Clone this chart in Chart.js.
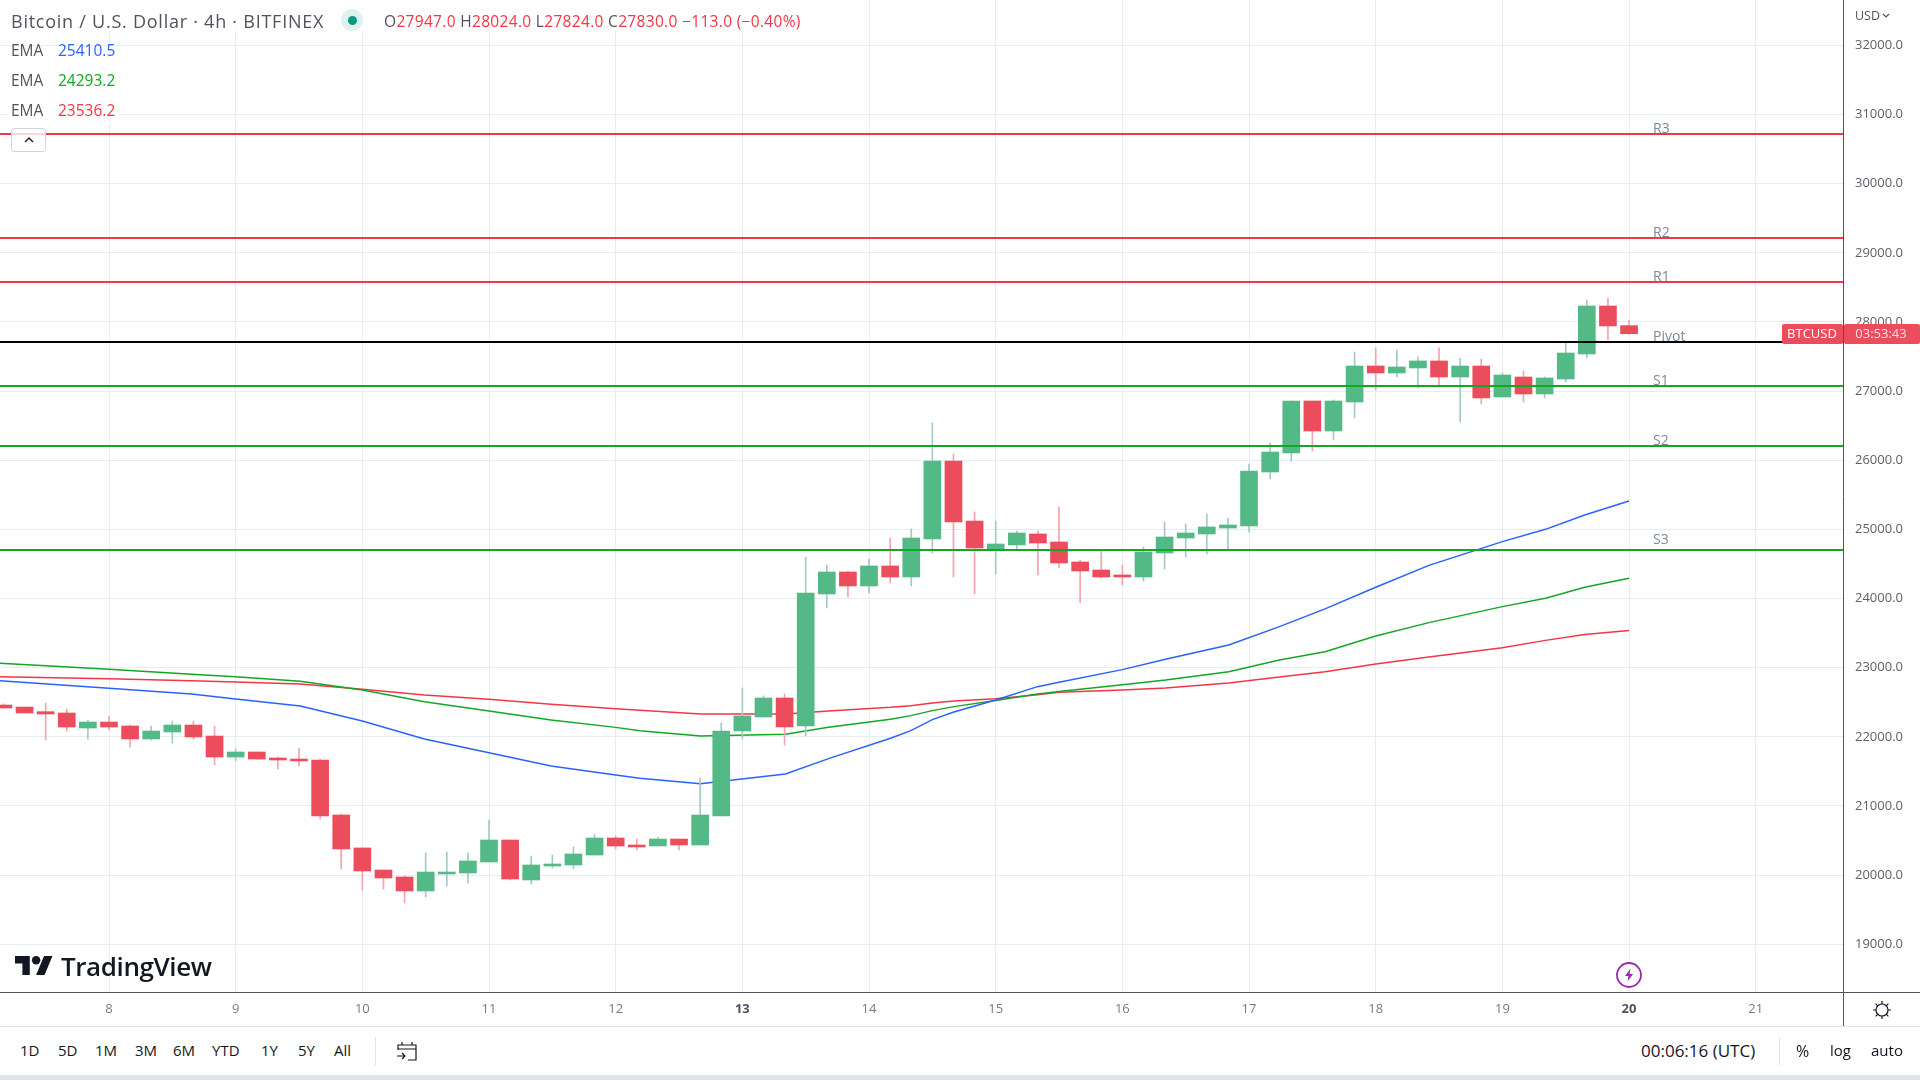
<!DOCTYPE html>
<html lang="en">
<head>
<meta charset="UTF-8">
<title>BTCUSD 4h</title>
<script src="https://cdn.jsdelivr.net/npm/chart.js"></script>
<style>
    html, body { margin: 0; padding: 0; background: #fff; width: 1920px; height: 1080px; overflow: hidden; }
    body { font-family: "Open Sans", sans-serif; color: #131722; position: relative; }
    #priceChart { position: absolute; left: 0; top: 0; }
    .t { position: absolute; white-space: nowrap; line-height: 1; transform: translateY(-50%); }
    .line { position: absolute; }
    .tool { font-size: 15px; color: #131722; }
    .head { font-size: 18px; letter-spacing: .75px; color: #50535e; }
    .ohlc { font-size: 15.5px; letter-spacing: .32px; color: #f23645; }
    .ohlc i { font-style: normal; color: #50535e; }
    .ema { font-size: 15.5px; color: #50535e; }
</style>
</head>
<body>
<canvas id="priceChart" width="1920" height="1026"></canvas>

<div class="line" style="left:8px;top:47px;width:110px;height:75px;background:rgba(255,255,255,.85);"></div>
<div class="line" style="left:0;top:0;width:812px;height:31px;background:rgba(255,255,255,.85);"></div>

<span class="t head" style="left:11px;top:21px;">Bitcoin / U.S. Dollar · 4h · BITFINEX</span>
<div class="line" style="left:341px;top:9px;width:22px;height:22px;border-radius:50%;background:#e0f2ef;"></div>
<div class="line" style="left:348px;top:16px;width:9px;height:9px;border-radius:50%;background:#089981;"></div>
<span class="t ohlc" style="left:384px;top:22px;"><i>O</i>27947.0 <i>H</i>28024.0 <i>L</i>27824.0 <i>C</i>27830.0 −113.0 (−0.40%)</span>

<span class="t ema" style="left:11px;top:51px;">EMA</span>
<span class="t ema" style="left:58px;top:51px;color:#2962ff;">25410.5</span>
<span class="t ema" style="left:11px;top:81px;">EMA</span>
<span class="t ema" style="left:58px;top:81px;color:#13a725;">24293.2</span>
<span class="t ema" style="left:11px;top:111px;">EMA</span>
<span class="t ema" style="left:58px;top:111px;color:#f23645;">23536.2</span>

<div class="line" style="left:11px;top:128px;width:35px;height:24px;box-sizing:border-box;border:1px solid #d1d4dc;border-radius:3px;background:rgba(255,255,255,.8);"></div>
<svg class="line" style="left:23px;top:136px;" width="12" height="8" viewBox="0 0 12 8"><path d="M2 6l4-4 4 4" fill="none" stroke="#131722" stroke-width="1.4"/></svg>

<svg class="line" style="left:15px;top:956px;" width="38" height="19" viewBox="0 4 36 18"><path d="M14 22H7V11H0V4h14v18zM28 22h-8l7.5-18h8L28 22z" fill="#131722"/><circle cx="20" cy="8" r="4" fill="#131722"/></svg>
<span class="t" style="left:61px;top:966px;font-size:26px;font-weight:600;letter-spacing:-.4px;color:#131722;">TradingView</span>

<svg class="line" style="left:1615px;top:961px;" width="28" height="28" viewBox="0 0 28 28"><circle cx="14" cy="14" r="12" fill="#fff" stroke="#9c27b0" stroke-width="1.8"/><path d="M15.5 7.5L10 15h3.5l-1 5.5 5.5-7.5h-3.5z" fill="#9c27b0"/></svg>

<span class="t" style="left:1855px;top:16px;font-size:12.5px;color:#50535e;">USD</span>
<svg class="line" style="left:1882px;top:13px;" width="8" height="6" viewBox="0 0 8 6"><path d="M1 1l3 3 3-3" fill="none" stroke="#50535e" stroke-width="1.2"/></svg>

<div class="line" style="left:0;top:992px;width:1920px;height:1px;background:#50535e;"></div>
<div class="line" style="left:1843px;top:992px;width:1px;height:34px;background:#50535e;"></div>
<div class="line" style="left:0;top:1026px;width:1920px;height:1px;background:#e0e3eb;"></div>
<div class="line" style="left:0;top:1075px;width:1920px;height:5px;background:#e0e3eb;"></div>

<svg class="line" style="left:1871px;top:999px;" width="22" height="22" viewBox="0 0 22 22"><g fill="none" stroke="#131722" stroke-width="1.2"><circle cx="11" cy="11" r="6"/><path d="M11 2v3M11 17v3M2 11h3M17 11h3M4.6 4.6l2.2 2.2M15.2 15.2l2.2 2.2M4.6 17.4l2.2-2.2M15.2 6.8l2.2-2.2"/></g></svg>

<span class="t tool" style="left:20px;top:1050px;">1D</span>
<span class="t tool" style="left:58px;top:1050px;">5D</span>
<span class="t tool" style="left:95px;top:1050px;">1M</span>
<span class="t tool" style="left:135px;top:1050px;">3M</span>
<span class="t tool" style="left:173px;top:1050px;">6M</span>
<span class="t tool" style="left:212px;top:1050px;">YTD</span>
<span class="t tool" style="left:261px;top:1050px;">1Y</span>
<span class="t tool" style="left:298px;top:1050px;">5Y</span>
<span class="t tool" style="left:334px;top:1050px;">All</span>
<div class="line" style="left:375px;top:1037px;width:1px;height:28px;background:#e0e3eb;"></div>
<svg class="line" style="left:396px;top:1041px;" width="22" height="20" viewBox="0 0 22 20"><g fill="none" stroke="#131722" stroke-width="1.2"><path d="M2 9V4h18v15h-8M2 8h18M6 1v3M16 1v3M1 15h8M6 12l3 3-3 3"/></g></svg>

<span class="t tool" style="left:1641px;top:1050px;font-size:17px;">00:06:16 (UTC)</span>
<div class="line" style="left:1779px;top:1037px;width:1px;height:28px;background:#e0e3eb;"></div>
<span class="t tool" style="left:1796px;top:1051px;font-size:16px;">%</span>
<span class="t tool" style="left:1830px;top:1050px;">log</span>
<span class="t tool" style="left:1871px;top:1050px;">auto</span>

<script>
// 4h candles, oldest first, the last one sits on the day 20 tick
const firstCandleDay = 8 - 5 / 6;
const candlesPerDay = 6;

const opens = [22460,22431,22364,22345,22128,22214,22157,21969,22070,22171,22012,21708,21781,21694,21679,21665,20870,20393,20074,19973,19771,20017,20031,20190,20508,19930,20132,20147,20291,20537,20436,20422,20522,20436,20856,22085,22287,22562,22157,24066,24384,24182,24471,24312,24861,25989,25121,24702,24775,24934,24818,24529,24413,24341,24312,24659,24876,24934,25020,25049,25830,26105,26857,26423,26843,27363,27262,27335,27436,27204,27363,26915,27204,26959,27175,27537,28231,27947];
const highs = [22480,22431,22489,22402,22243,22301,22171,22157,22229,22229,22157,21824,21781,21708,21839,21679,20884,20393,20074,19988,20320,20335,20320,20797,20508,20277,20291,20407,20595,20566,20523,20552,20522,21405,22201,22707,22591,22620,24601,24485,24399,24572,24876,25006,26539,26090,25252,25121,24977,24977,25324,24558,24688,24485,24746,25107,25078,25223,25165,25946,26249,26857,26857,26872,27566,27624,27595,27494,27624,27479,27465,27262,27291,27204,27696,28318,28347,28024];
const lows = [22417,22345,21954,22084,21969,22104,21853,21954,21911,21969,21593,21651,21679,21535,21578,20812,20089,19785,19800,19597,19684,19843,19886,20190,19930,19872,20103,20089,20291,20378,20364,20422,20364,20436,20856,21969,22287,21882,22013,23864,24023,24080,24225,24182,24659,24312,24066,24355,24717,24341,24442,23936,24297,24196,24254,24427,24601,24644,24717,24962,25729,25990,26134,26293,26612,27016,27204,27045,27089,26554,26814,26915,26843,26901,27132,27479,27739,27824];
const closes = [22417,22345,22330,22142,22214,22142,21969,22084,22171,21998,21708,21781,21679,21665,21651,20855,20378,20060,19959,19771,20045,20045,20205,20508,19944,20147,20161,20306,20537,20421,20407,20522,20436,20870,22085,22302,22562,22143,24080,24384,24182,24471,24312,24876,25989,25107,24731,24789,24948,24803,24514,24399,24312,24312,24673,24890,24948,25035,25064,25845,26119,26857,26423,26857,27363,27262,27349,27436,27204,27363,26901,27233,26959,27190,27551,28231,27942,27830];

const emaDays = [7.14,8,8.65,9,9.51,10,10.49,11,11.49,12,12.19,12.67,13.34,13.68,14.17,14.33,14.5,14.67,15,15.33,15.5,16,16.34,16.84,17.24,17.6,18,18.42,19,19.34,19.65,20];
const emaBlue = [22812,22701,22619,22547,22446,22229,21969,21771,21578,21448,21400,21323,21463,21685,21979,22090,22249,22360,22533,22726,22789,22972,23121,23328,23594,23850,24163,24480,24823,25001,25209,25410.5];
const emaGreen = [23063,22976,22904,22870,22803,22677,22508,22374,22243,22137,22089,22013,22037,22138,22254,22307,22379,22437,22524,22620,22654,22755,22822,22943,23112,23230,23459,23652,23883,24004,24163,24293.2];
const emaRed = [22870,22841,22812,22793,22764,22687,22605,22542,22470,22407,22383,22331,22331,22374,22427,22451,22490,22520,22552,22610,22644,22678,22707,22779,22866,22940,23054,23155,23290,23395,23480,23536.2];

const levelNames = ['R3','R2','R1','Pivot','S1','S2','S3'];
const levelValues = [30718,29214,28578,27710,27074,26207,24703];
const levelColors = ['#f23645','#f23645','#f23645','#000000','#13a725','#13a725','#13a725'];
const levelLabelDay = 20.19;

const dayTicks = [8,9,10,11,12,13,14,15,16,17,18,19,20,21];
const boldDays = [13,20];
const priceTicks = [19000,20000,21000,22000,23000,24000,25000,26000,27000,28000,29000,30000,31000,32000];

const dayMin = 7.1395, dayMax = 21.689;
const priceMin = 18310, priceMax = 32656;

const upColor = '#53b987', downColor = '#eb4d5c';
const upWick = '#a3c9c8', downWick = '#f5a3ae';
const gridColor = '#e6edf3';

const candleDays = opens.map((o, i) => firstCandleDay + i / candlesPerDay);
const isUp = opens.map((o, i) => closes[i] >= o);

const bodies = {
    type: 'bar', order: 3, grouped: false, barThickness: 17,
    data: opens.map((o, i) => ({ x: candleDays[i], y: [o, closes[i]] })),
    backgroundColor: isUp.map(u => u ? upColor : downColor)
};
const wicks = {
    type: 'bar', order: 4, grouped: false, barThickness: 1,
    data: highs.map((h, i) => ({ x: candleDays[i], y: [lows[i], h] })),
    backgroundColor: isUp.map(u => u ? upWick : downWick)
};
function emaSet(values, color) {
    return {
        type: 'line', order: 5, data: values.map((v, i) => ({ x: emaDays[i], y: v })),
        borderColor: color, borderWidth: 1.5, pointRadius: 0, tension: 0
    };
}
const levels = levelValues.map((v, i) => ({
    type: 'line', order: 1,
    data: [{ x: dayMin, y: v }, { x: dayMax, y: v }],
    borderColor: levelColors[i], borderWidth: 2, pointRadius: 0
}));

function isBold(c) {
    return !!c.tick && boldDays.includes(c.tick.value);
}

// level names and the price tag on the right
const overlayPlugin = {
    id: 'overlay',
    afterDatasetsDraw(chart) {
        const c = chart.ctx, x = chart.scales.x, y = chart.scales.y;
        c.save();
        c.font = '14px "Open Sans"';
        c.fillStyle = '#7b8a99';
        c.textBaseline = 'middle';
        c.textAlign = 'left';
        levelNames.forEach((n, i) => {
            // S3 sits higher above its line than the others
            const lift = n === 'S3' ? 10 : 5;
            c.fillText(n, x.getPixelForValue(levelLabelDay), y.getPixelForValue(levelValues[i]) - lift);
        });
        c.restore();
    },
    afterDraw(chart) {
        const c = chart.ctx, y = chart.scales.y;
        const py = Math.round(y.getPixelForValue(closes[closes.length - 1]));
        c.save();
        c.fillStyle = downColor;
        c.beginPath();
        c.roundRect(1782, py - 10, 61, 20, 2);
        c.roundRect(1844, py - 10, 76, 20, 2);
        c.fill();
        c.font = '13px "Open Sans"';
        c.textBaseline = 'middle';
        c.textAlign = 'center';
        c.fillStyle = '#ffffff';
        c.fillText('BTCUSD', 1812, py);
        c.fillStyle = '#fbdde0';
        c.fillText('03:53:43', 1881, py);
        c.restore();
    }
};

new Chart(document.getElementById('priceChart'), {
    type: 'bar',
    data: { datasets: [bodies, wicks, emaSet(emaBlue, '#2962ff'), emaSet(emaGreen, '#13a725'), emaSet(emaRed, '#f23645'), ...levels] },
    plugins: [overlayPlugin],
    options: {
        responsive: false,
        animation: false,
        maintainAspectRatio: false,
        layout: { padding: 0 },
        plugins: { legend: { display: false }, tooltip: { enabled: false } },
        scales: {
            x: {
                type: 'linear', min: dayMin, max: dayMax, offset: false,
                afterBuildTicks: s => { s.ticks = dayTicks.map(v => ({ value: v })); },
                afterFit: s => { s.height = 34; s.paddingLeft = 0; s.paddingRight = 0; },
                grid: { color: gridColor, offset: false, drawTicks: false },
                border: { display: false },
                ticks: {
                    autoSkip: false, maxRotation: 0, padding: 9,
                    color: c => isBold(c) ? '#50535e' : '#787b86',
                    font: c => ({ family: '"Open Sans"', size: 13, weight: isBold(c) ? 'bold' : 'normal' }),
                    callback: v => String(v)
                }
            },
            y: {
                position: 'right', min: priceMin, max: priceMax,
                afterBuildTicks: s => { s.ticks = priceTicks.map(v => ({ value: v })); },
                afterFit: s => { s.width = 77; s.paddingTop = 0; s.paddingBottom = 0; },
                grid: { color: gridColor, drawTicks: false },
                border: { display: true, color: '#50535e', width: 1 },
                ticks: {
                    padding: 12, color: '#5d606b',
                    font: { family: '"Open Sans"', size: 13 },
                    callback: v => v.toFixed(1)
                }
            }
        }
    }
});
</script>
</body>
</html>
